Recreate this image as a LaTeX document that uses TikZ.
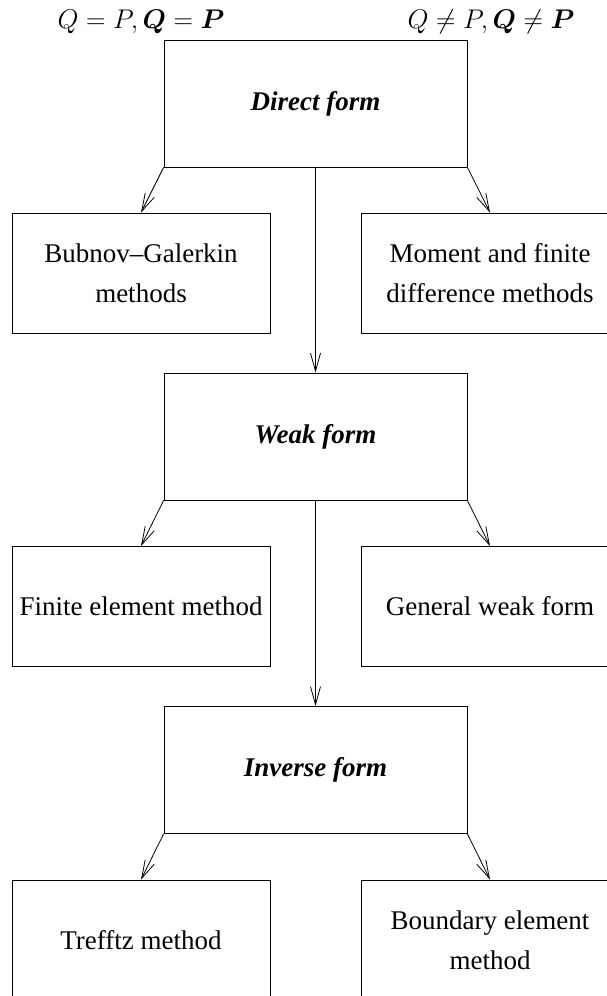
\RequirePackage{fix-cm}
\documentclass[tikz,border=0pt]{standalone}
\usepackage{amsmath,bm}
\usepackage{fontspec}
\setmainfont{Liberation Serif}
\usetikzlibrary{arrows.meta}
\begin{document}
\begin{tikzpicture}[x=1pt,y=-1pt,
  box/.style={draw,line width=0.8pt,inner sep=0pt,align=center,font=\fontsize{27}{40}\selectfont},
  mainbox/.style={box,minimum width=303pt,minimum height=127pt},
  sidebox/.style={box,minimum width=258pt,minimum height=120pt},
  arr/.style={line width=0.8pt,-{Straight Barb[length=18pt,width=10pt,line width=0.8pt]}},
  lbl/.style={font=\fontsize{27}{40}\selectfont,inner sep=0pt}]
\useasboundingbox (0,0) rectangle (607,996);
\clip (0,0) rectangle (607,996);
\node[lbl] (lq) at (141,22) {$Q=P,\bm{Q}=\bm{P}$};
\node[lbl] (rq) at (491,22) {$Q\neq P,\bm{Q}\neq\bm{P}$};
\node[mainbox] (direct) at (315.5,103.5) {\textbf{\textit{Direct form}}};
\node[sidebox] (bub) at (141,273) {Bubnov--Galerkin\\methods};
\node[sidebox] (mom) at (490,273) {Moment and finite\\difference methods};
\node[mainbox] (weak) at (315.5,436.5) {\textbf{\textit{Weak form}}};
\node[sidebox] (fem) at (141,606.5) {Finite element method};
\node[sidebox] (gwf) at (490,606.5) {General weak form};
\node[mainbox] (inv) at (315.5,770) {\textbf{\textit{Inverse form}}};
\node[sidebox] (tre) at (141,940) {Trefftz method};
\node[sidebox] (bem) at (490,940) {Boundary element\\method};
\draw[arr] (direct.south west) -- (bub.north);
\draw[arr] (direct.south east) -- (mom.north);
\draw[arr] (direct.south) -- (weak.north);
\draw[arr] (weak.south west) -- (fem.north);
\draw[arr] (weak.south east) -- (gwf.north);
\draw[arr] (weak.south) -- (inv.north);
\draw[arr] (inv.south west) -- (tre.north);
\draw[arr] (inv.south east) -- (bem.north);
\end{tikzpicture}
\end{document}
